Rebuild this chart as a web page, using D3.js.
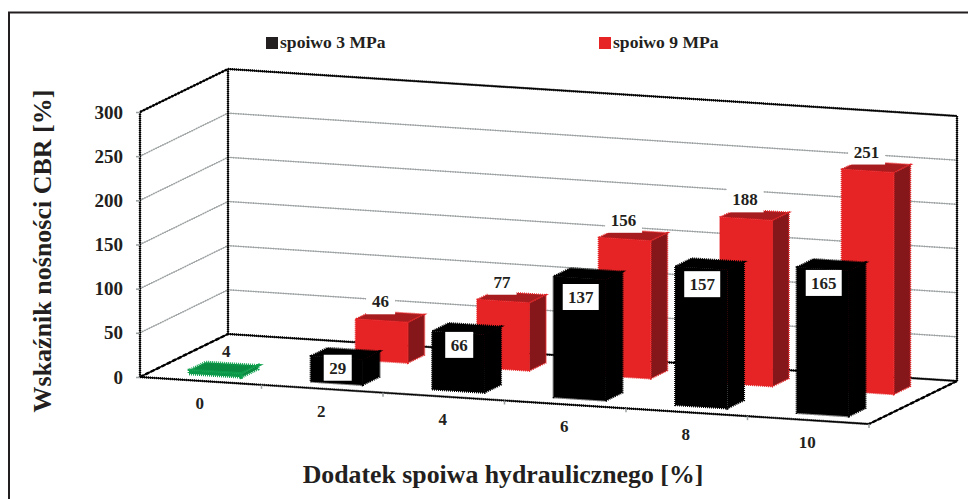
<!DOCTYPE html>
<html>
<head>
<meta charset="utf-8">
<script src="https://cdn.jsdelivr.net/npm/d3@7"></script>
<style>
  body { margin: 0; background: #fff; }
  text { font-family: "Liberation Serif", serif; font-weight: bold; fill: #231f20; }
</style>
</head>
<body>
<div id="chart"></div>
<script>
// values
var categories = ["0", "2", "4", "6", "8", "10"];
var spoiwo3 = [4, 29, 66, 137, 157, 165];
var spoiwo9 = [null, 46, 77, 156, 188, 251];
var yTicks = [0, 50, 100, 150, 200, 250, 300];
var seriesNames = ["spoiwo 3 MPa", "spoiwo 9 MPa"];

var width = 968, height = 499;

// oblique box: origin is the front left floor corner
var origin = {x: 140, y: 377},
    floorLength = 729,
    floorDrop = 47 / 729,
    depthX = 88,
    depthY = 43;

var svg = d3.select("#chart")
  .append("svg")
    .attr("width", width)
    .attr("height", height)
    .style("display", "block");

var x = d3.scaleBand().domain(categories).range([0, floorLength]);
var z = d3.scaleLinear().domain([0, 300]).range([0, 265]);
var y = d3.scaleLinear().domain([0, 300]).range([origin.y, origin.y - 265]);
var depth = d3.scaleOrdinal().domain(seriesNames).range([0.13, 0.64]);

var barOffset = x.bandwidth() * 0.31,
    barWidth = x.bandwidth() * 0.43,
    barDepth = 0.19;

function project(a, v, val) {
  return [
    origin.x + a + depthX * v,
    origin.y + a * floorDrop - depthY * v - z(val)
  ];
}

function poly(points) {
  return points.map(function(p) { return p.join(","); }).join(" ");
}

// rough printed line: thin solid one with a dotted one over it
function roughLine(p1, p2, color, w, dash) {
  svg.append("line")
    .attr("x1", p1[0]).attr("y1", p1[1]).attr("x2", p2[0]).attr("y2", p2[1])
    .attr("stroke", color).attr("stroke-width", w * 0.6);
  svg.append("line")
    .attr("x1", p1[0]).attr("y1", p1[1]).attr("x2", p2[0]).attr("y2", p2[1])
    .attr("stroke", color).attr("stroke-width", w)
    .attr("stroke-dasharray", dash);
}

// outer frame, only top and left are in the crop
svg.append("path")
  .attr("d", d3.line()([[9, height], [9, 12.5], [width, 12.5]]))
  .attr("fill", "none")
  .attr("stroke", "#231f20")
  .attr("stroke-width", 2);

// grid lines on both walls
yTicks.slice(1, -1).forEach(function(t) {
  var a = project(0, 0, t), b = project(0, 1, t), c = project(floorLength, 1, t);
  roughLine(a, b, "#9a9fa0", 1.6, "1 1.5");
  roughLine(b, c, "#9a9fa0", 1.6, "1 1.5");
});

// box edges
var top0 = project(0, 0, 300), top1 = project(0, 1, 300), top2 = project(floorLength, 1, 300);
var bot0 = project(0, 0, 0), bot1 = project(0, 1, 0), bot2 = project(floorLength, 1, 0), bot3 = project(floorLength, 0, 0);
roughLine(top0, top1, "#000", 2.4, "2 1.5");
roughLine(top1, top2, "#000", 2.4, "1 1");
roughLine(top0, bot0, "#000", 2.4, "1 1");
roughLine(top1, bot1, "#000", 2.4, "1 1");
roughLine(top2, bot2, "#000", 2.4, "1 1");
roughLine(bot0, bot1, "#000", 2.4, "4 2");
roughLine(bot1, bot2, "#000", 2.4, "1 1");
roughLine(bot0, bot3, "#000", 2.4, "1 1");
roughLine(bot2, bot3, "#000", 2.4, "4 2");

// y axis
var yAxis = svg.append("g")
  .attr("transform", "translate(" + origin.x + ",0)")
  .call(d3.axisLeft(y).tickValues(yTicks).tickSize(4).tickPadding(13));
yAxis.select(".domain").remove();
yAxis.selectAll("line").attr("stroke", "#9a9fa0").attr("stroke-width", 1.5);
yAxis.selectAll("text").style("font-size", "19px").style("font-family", "Liberation Serif");

// x ticks and labels
categories.forEach(function(c) {
  var p = project(x(c) + x.bandwidth(), 0, 0);
  svg.append("line")
    .attr("x1", p[0]).attr("y1", p[1]).attr("x2", p[0]).attr("y2", p[1] + 4)
    .attr("stroke", "#9a9fa0").attr("stroke-width", 1.5);
  var q = project(x(c) + x.bandwidth() / 2, 0, 0);
  svg.append("text")
    .attr("x", q[0] - 1)
    .attr("y", q[1] + 28)
    .attr("text-anchor", "middle")
    .style("font-size", "17px")
    .text(c);
});

function drawBar(val, i, name, colors) {
  var a0 = x(categories[i]) + barOffset, a1 = a0 + barWidth;
  var v0 = depth(name), v1 = v0 + barDepth;
  var faces = [
    {pts: [project(a0, v0, val), project(a1, v0, val), project(a1, v1, val), project(a0, v1, val)], fill: colors.top},
    {pts: [project(a1, v0, 0), project(a1, v1, 0), project(a1, v1, val), project(a1, v0, val)], fill: colors.side},
    {pts: [project(a0, v0, 0), project(a1, v0, 0), project(a1, v0, val), project(a0, v0, val)], fill: colors.front}
  ];
  faces.forEach(function(f) {
    svg.append("polygon")
      .attr("points", poly(f.pts))
      .attr("fill", f.fill);
    svg.append("polygon")
      .attr("points", poly(f.pts))
      .attr("fill", "none")
      .attr("stroke", colors.edge)
      .attr("stroke-width", colors.edgeWidth)
      .attr("stroke-dasharray", "1 1");
  });
}

var redColors = {front: "#e62325", top: "#a61c1f", side: "#85171a", edge: "#e62325", edgeWidth: 1.6};
var blackColors = {front: "#000", top: "#000", side: "#000", edge: "#000", edgeWidth: 2};
var greenColors = {front: "#0a9346", top: "#0a8a40", side: "#0b7d3c", edge: "#0fa24e", edgeWidth: 3};

// back row first, the front row hides it
spoiwo9.forEach(function(v, i) {
  if (v !== null) drawBar(v, i, seriesNames[1], redColors);
});
spoiwo3.forEach(function(v, i) {
  drawBar(v, i, seriesNames[0], i === 0 ? greenColors : blackColors);
});

function drawLabel(val, cx, cy, w) {
  svg.append("rect")
    .attr("x", cx - w / 2).attr("y", cy - 13)
    .attr("width", w).attr("height", 26)
    .attr("fill", "#fff");
  svg.append("text")
    .attr("x", cx).attr("y", cy + 6)
    .attr("text-anchor", "middle")
    .style("font-size", "17px")
    .text(val);
}

// labels sit a little off the bar tops, excel moved the black ones around
var blackNudge = [0, 10, 12, 19, 16, 14];
spoiwo9.forEach(function(v, i) {
  if (v === null) return;
  var p = project(x(categories[i]) + barOffset + barWidth / 2, depth(seriesNames[1]), v);
  drawLabel(v, p[0] - 1, p[1] - 19.5, String(v).length * 8 + 13);
});
spoiwo3.forEach(function(v, i) {
  var p = project(x(categories[i]) + barOffset + barWidth / 2, depth(seriesNames[0]), v);
  if (i === 0) {
    svg.append("text")
      .attr("x", p[0] + 11).attr("y", p[1] - 14.5)
      .attr("text-anchor", "middle")
      .style("font-size", "17px")
      .text(v);
  } else {
    drawLabel(v, p[0] + 1, p[1] + blackNudge[i], String(v).length * 8 + 12);
  }
});

// legend
var legendX = [266, 599], legendColor = ["#231f20", "#e62325"];
seriesNames.forEach(function(name, i) {
  svg.append("rect")
    .attr("x", legendX[i]).attr("y", 37)
    .attr("width", 12).attr("height", 12)
    .attr("fill", legendColor[i]);
  svg.append("text")
    .attr("x", legendX[i] + 14).attr("y", 48)
    .style("font-size", "17.6px")
    .text(name);
});

// axis titles
svg.append("text")
  .attr("transform", "translate(51,251)rotate(-90)")
  .attr("text-anchor", "middle")
  .style("font-size", "26px")
  .text("Wskaźnik nośności CBR [%]");

svg.append("text")
  .attr("x", 503)
  .attr("y", 483)
  .attr("text-anchor", "middle")
  .style("font-size", "25.8px")
  .text("Dodatek spoiwa hydraulicznego [%]");
</script>
</body>
</html>
